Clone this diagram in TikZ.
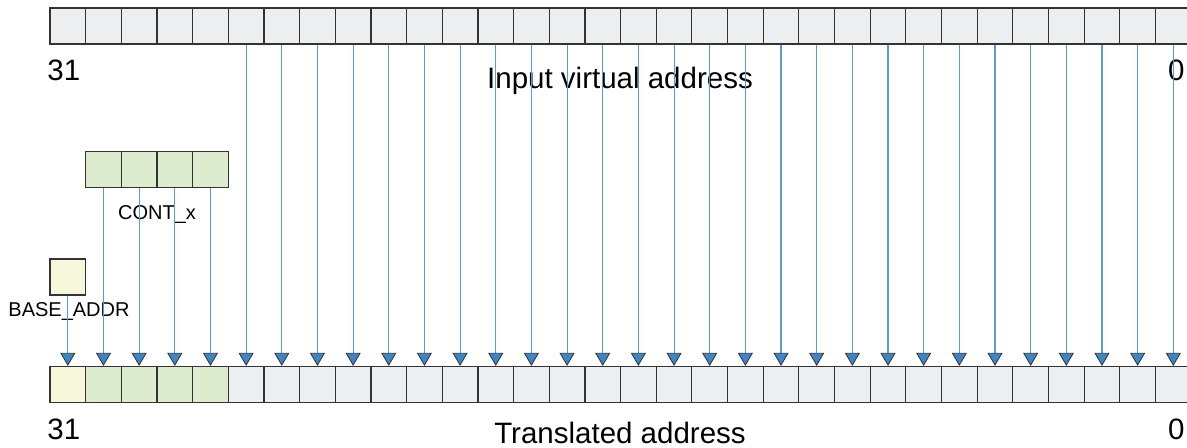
\documentclass[tikz,border=0pt]{standalone}
\usepackage{fontspec}
\setmainfont{Liberation Sans}
\usetikzlibrary{arrows.meta,positioning}

\definecolor{cellgrey}{HTML}{EDEEF0}
\definecolor{cellgreen}{HTML}{DDEBCF}
\definecolor{cellyellow}{HTML}{F7F7DC}
\definecolor{linkblue}{HTML}{5B9BD5}
\definecolor{tipblue}{HTML}{3E85C6}

\begin{document}
\begin{tikzpicture}[x=0.5pt, y=-0.5pt,
    cell/.style={draw=black!80, line width=0.6pt, fill=cellgrey, minimum width=17.83pt, minimum height=18pt, inner sep=0pt},
    contcell/.style={cell, fill=cellgreen},
    basecell/.style={cell, fill=cellyellow},
    link/.style={draw=linkblue, line width=0.55pt, -{Triangle[width=7.5pt, length=6.5pt, color=black!80, fill=tipblue, line width=0.4pt]}},
    big/.style={font=\fontsize{14.75}{17}\selectfont, inner sep=0pt},
    small/.style={font=\fontsize{10}{12}\selectfont, inner sep=0pt}
]
\useasboundingbox (0,0) rectangle (1187,448);

% Input virtual address register
\foreach \k in {0,...,31}{
  \pgfmathtruncatemacro\b{31-\k}
  \node[cell] (v\b) at ({50+(\k+0.5)*35.66}, 26) {};
}

% Translated address register
\node[basecell] (t31) at ({50+0.5*35.66}, 384.5) {};
\foreach \k in {1,...,4}{
  \pgfmathtruncatemacro\b{31-\k}
  \node[contcell] (t\b) at ({50+(\k+0.5)*35.66}, 384.5) {};
}
\foreach \k in {5,...,31}{
  \pgfmathtruncatemacro\b{31-\k}
  \node[cell] (t\b) at ({50+(\k+0.5)*35.66}, 384.5) {};
}

% CONT_x and BASE_ADDR fields
\foreach \i in {1,...,4}
  \node[contcell] (c\i) at ({50+(\i+0.5)*35.66}, 169.5) {};
\node[basecell] (base) at ({50+0.5*35.66}, 277) {};

% Labels
\node[big, anchor=base west] (vhi) at (47,81) {31};
\node[big, anchor=base east] (vlo) at (1185,81) {0};
\node[big, anchor=base] (vname) at (620,89) {Input virtual address};
\node[big, anchor=base west] (thi) at (47,439) {31};
\node[big, anchor=base east] (tlo) at (1185,439) {0};
\node[big, anchor=base] (tname) at (620,443) {Translated address};
\node[small, anchor=base] (cname) at (157,220) {CONT\_x};
\node[small, anchor=base] (bname) at (69,316) {BASE\_ADDR};

% Bit mapping
\foreach \b in {0,...,26}
  \draw[link] (v\b.south) -- (t\b.north);
\foreach \i [evaluate=\i as \b using int(31-\i)] in {1,...,4}
  \draw[link] (c\i.south) -- (t\b.north);
\draw[link] (base.south) -- (t31.north);

\end{tikzpicture}
\end{document}
